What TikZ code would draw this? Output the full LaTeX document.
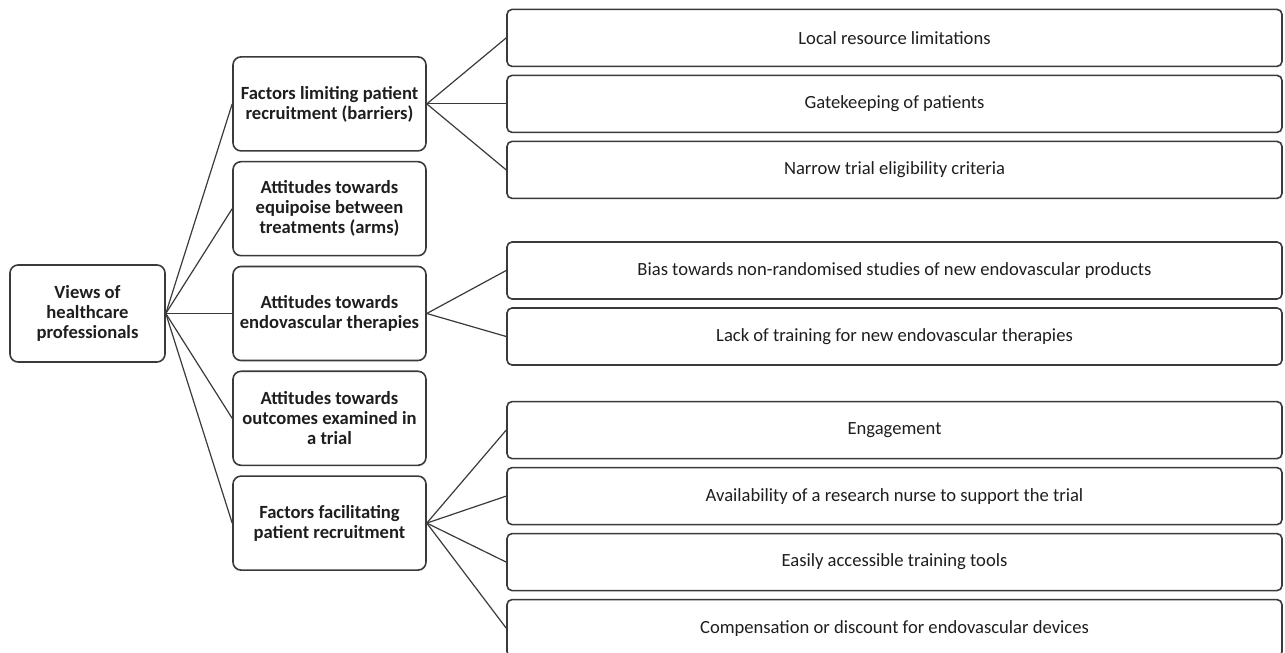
\documentclass[tikz,border=0pt]{standalone}
\usepackage{fontspec}
\setmainfont{Carlito}
\definecolor{linegray}{HTML}{3A3A3A}
\definecolor{textgray}{HTML}{1E1E1E}

\begin{document}
\begin{tikzpicture}[
            grow'=right,
            level 1/.style={level distance=121pt, sibling distance=52.4pt},
            level 2/.style={level distance=282.5pt, sibling distance=33pt},
            edge from parent/.style={draw=linegray, line width=0.6pt},
            edge from parent path={(\tikzparentnode.east) -- (\tikzchildnode.west)},
            rootbox/.style={draw=linegray, line width=0.8pt, rounded corners=4pt,
                    minimum width=77.5pt, minimum height=48.5pt, align=center,
                    text=textgray, font=\fontsize{9.3}{10}\selectfont\bfseries},
            themebox/.style={draw=linegray, line width=0.8pt, rounded corners=4pt,
                    minimum width=96.5pt, minimum height=47pt, inner xsep=2pt, align=center,
                    text=textgray, font=\fontsize{9.3}{10}\selectfont\bfseries},
            subbox/.style={draw=linegray, line width=0.8pt, rounded corners=2.5pt,
                    minimum width=387.5pt, minimum height=28.5pt, align=center,
                    text=textgray, font=\fontsize{9.3}{10}\selectfont}
        ]
        \useasboundingbox (-43.75pt,-169.75pt) rectangle (598.75pt,156.75pt);
        \node[rootbox] (views) {Views of\\healthcare\\professionals}
        child {
                node[themebox] (barriers) {Factors limiting patient\\recruitment (barriers)}
                child {node[subbox] (resources) {Local resource limitations}}
                child {node[subbox] (gatekeeping) {Gatekeeping of patients}}
                child {node[subbox] (eligibility) {Narrow trial eligibility criteria}}
            }
        child {
                node[themebox] (equipoise) {Attitudes towards\\equipoise between\\treatments (arms)}
            }
        child {
                node[themebox] (endo) {Attitudes towards\\endovascular therapies}
                child {node[subbox, yshift=5pt] (bias) {Bias towards non-randomised studies of new endovascular products}}
                child {node[subbox, yshift=5pt] (training) {Lack of training for new endovascular therapies}}
            }
        child {
                node[themebox] (outcomes) {Attitudes towards\\outcomes examined in\\a trial}
            }
        child {
                node[themebox] (facilitating) {Factors facilitating\\patient recruitment}
                child {node[subbox, yshift=-3pt] (engagement) {Engagement}}
                child {node[subbox, yshift=-3pt] (nurse) {Availability of a research nurse to support the trial}}
                child {node[subbox, yshift=-3pt] (tools) {Easily accessible training tools}}
                child {node[subbox, yshift=-3pt] (compensation) {Compensation or discount for endovascular devices}}
            };
    \end{tikzpicture}
\end{document}
